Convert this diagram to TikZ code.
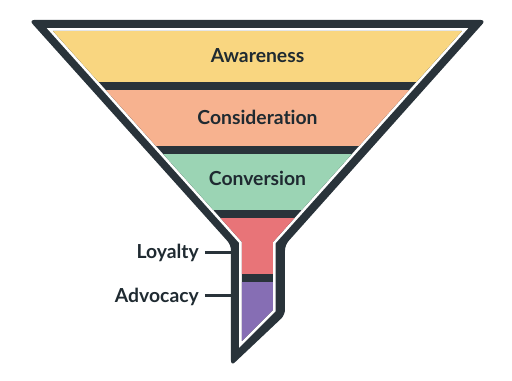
\documentclass[tikz,border=0pt]{standalone}
\usepackage{fontspec}
\setmainfont{Lato}[Ligatures={NoCommon,NoRequired,NoContextual}]
\usepackage{xcolor}
\usepackage{tikz}
\usetikzlibrary{positioning}

\definecolor{funnelDark}{HTML}{29333A}
\definecolor{labelDark}{HTML}{1F2A31}
\definecolor{awareYellow}{HTML}{F9D680}
\definecolor{considerOrange}{HTML}{F7B28F}
\definecolor{convertGreen}{HTML}{9BD4B4}
\definecolor{loyalRed}{HTML}{E87478}
\definecolor{advocPurple}{HTML}{866EB4}

\def\funnelpath{(53,31) -- (462,31) -- (273,242) -- (273,310) -- (242,341) -- (242,242) -- cycle}

\begin{document}
\begin{tikzpicture}[x=0.02cm, y=-0.02cm,
  stage/.style={font=\bfseries\fontsize{11}{13}\selectfont, text=labelDark},
  tick/.style={funnelDark, line width=0.06cm}]
  \useasboundingbox (0,0) rectangle (512,381);

  % Outer funnel body
  \fill[funnelDark, rounded corners=3pt]
    (29,20) -- (486,20) -- (285,245) -- (285,315) -- (231,366) -- (231,245) -- cycle;

  % White rim
  \draw[white, line width=0.11cm, line join=miter] \funnelpath;

  % Dark dividers behind the stages
  \fill[funnelDark] \funnelpath;

  % Stage bands
  \begin{scope}
    \clip \funnelpath;
    \fill[awareYellow]    (0,31)  rectangle (512,82);
    \fill[considerOrange] (0,90)  rectangle (512,146);
    \fill[convertGreen]   (0,154) rectangle (512,210);
    \fill[loyalRed]       (0,218) rectangle (512,274);
    \fill[advocPurple]    (0,282) rectangle (512,381);
  \end{scope}

  % Stage labels
  \node[stage, anchor=base] (awareness) at (257.5,63) {Awareness};
  \node[stage, anchor=base] (consideration) at (257.5,125) {Consideration};
  \node[stage, anchor=base] (conversion) at (257.5,186) {Conversion};

  % Side labels for the neck
  \node[stage, anchor=base east] (loyalty) at (205,259) {Loyalty};
  \node[stage, anchor=base east] (advocacy) at (205,303) {Advocacy};
  \coordinate (loyaltyTip) at (231,253);
  \coordinate (advocacyTip) at (231,296);
  \draw[tick] (loyalty.east |- loyaltyTip) -- (loyaltyTip);
  \draw[tick] (advocacy.east |- advocacyTip) -- (advocacyTip);
\end{tikzpicture}
\end{document}
